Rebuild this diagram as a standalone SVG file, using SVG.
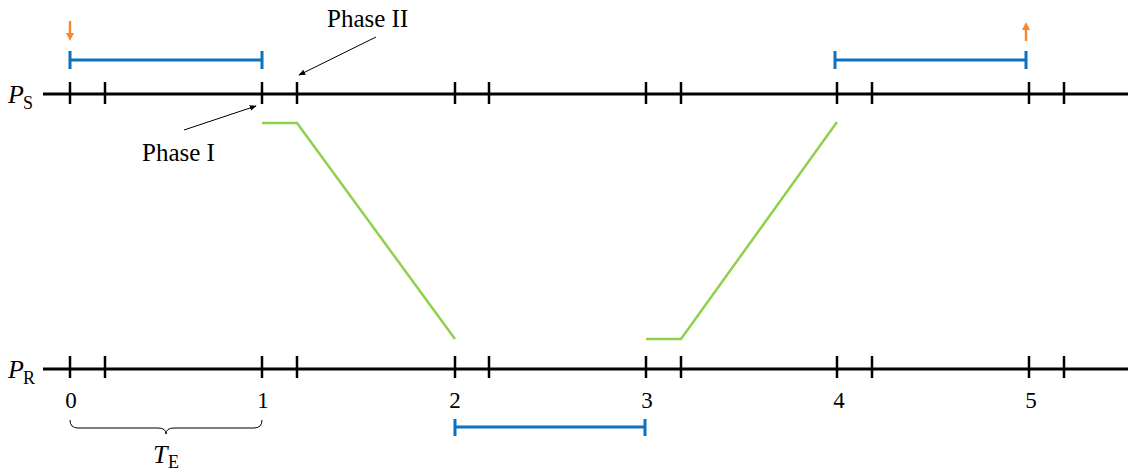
<svg xmlns="http://www.w3.org/2000/svg" width="1128" height="472" viewBox="0 0 1128 472" font-family="'Liberation Serif', 'Times New Roman', serif">
<style>
.axis{stroke:#000;stroke-width:3;fill:none}
.tick{stroke:#000;stroke-width:2.5}
.blue{stroke:#0c72c0;stroke-width:3;fill:none}
.green{stroke:#8ed24c;stroke-width:2.5;fill:none}
.orange{stroke:#f78a30;stroke-width:2.5;fill:none}
.thin{stroke:#000;stroke-width:1;fill:none}
text{font-family:'Liberation Serif','Times New Roman',serif;fill:#000}
.num{font-size:23px;text-anchor:middle}
.lbl{font-size:25px}
</style>
<defs>
<marker id="ah" viewBox="0 0 10 10" refX="9" refY="5" markerWidth="7" markerHeight="7" orient="auto" markerUnits="userSpaceOnUse"><path d="M0,1 L10,5 L0,9 z" fill="#000"/></marker>
<marker id="oh" viewBox="0 0 10 10" refX="5" refY="5" markerWidth="8" markerHeight="8" orient="auto" markerUnits="userSpaceOnUse"><path d="M0,0 L10,5 L0,10 z" fill="#f78a30"/></marker>
</defs>
<g id="axis-ps">
<line class="axis" x1="43" y1="94" x2="1128" y2="94"/>
<g class="tick">
<line x1="70" y1="82" x2="70" y2="104"/><line x1="105" y1="82" x2="105" y2="104"/>
<line x1="262" y1="82" x2="262" y2="104"/><line x1="297" y1="82" x2="297" y2="104"/>
<line x1="455" y1="82" x2="455" y2="104"/><line x1="489" y1="82" x2="489" y2="104"/>
<line x1="646" y1="82" x2="646" y2="104"/><line x1="681" y1="82" x2="681" y2="104"/>
<line x1="837" y1="82" x2="837" y2="104"/><line x1="872" y1="82" x2="872" y2="104"/>
<line x1="1029" y1="82" x2="1029" y2="104"/><line x1="1064" y1="82" x2="1064" y2="104"/>
</g>
<text x="8" y="103" font-size="26" font-style="italic">P</text><text x="23" y="109" font-size="18">S</text>
</g>
<g id="axis-pr">
<line class="axis" x1="43" y1="369" x2="1128" y2="369"/>
<g class="tick">
<line x1="70" y1="356" x2="70" y2="378"/><line x1="105" y1="356" x2="105" y2="378"/>
<line x1="262" y1="356" x2="262" y2="378"/><line x1="297" y1="356" x2="297" y2="378"/>
<line x1="455" y1="356" x2="455" y2="378"/><line x1="489" y1="356" x2="489" y2="378"/>
<line x1="646" y1="356" x2="646" y2="378"/><line x1="681" y1="356" x2="681" y2="378"/>
<line x1="837" y1="356" x2="837" y2="378"/><line x1="872" y1="356" x2="872" y2="378"/>
<line x1="1029" y1="356" x2="1029" y2="378"/><line x1="1064" y1="356" x2="1064" y2="378"/>
</g>
<text x="8" y="378" font-size="26" font-style="italic">P</text><text x="23" y="384" font-size="18">R</text>
<text class="num" x="71" y="408">0</text>
<text class="num" x="263" y="408">1</text>
<text class="num" x="455" y="408">2</text>
<text class="num" x="647" y="408">3</text>
<text class="num" x="839" y="408">4</text>
<text class="num" x="1031" y="408">5</text>
</g>
<g id="blue-intervals" class="blue">
<path d="M70,60 H262 M70,51 V69 M262,51 V69"/>
<path d="M835,60 H1026 M835,51 V69 M1026,51 V69"/>
<path d="M455,427 H645 M455,419 V436 M645,419 V436"/>
</g>
<g id="orange-arrows">
<line class="orange" x1="70" y1="21" x2="70" y2="37" marker-end="url(#oh)"/>
<line class="orange" x1="1026" y1="41" x2="1026" y2="26" marker-end="url(#oh)"/>
</g>
<g id="connectors">
<polyline class="green" points="262,123 297,123 455,339"/>
<polyline class="green" points="646,339 681,339 837,122"/>
<line class="thin" x1="376" y1="37" x2="299" y2="75" marker-end="url(#ah)"/>
<line class="thin" x1="184" y1="130" x2="256" y2="106" marker-end="url(#ah)"/>
</g>
<g id="labels">
<text class="lbl" x="327" y="27">Phase II</text>
<text class="lbl" x="142" y="161">Phase I</text>
</g>
<g id="brace">
<path class="thin" d="M70,420 Q70,428 78,428 H158 Q166,428 166,434 Q166,428 174,428 H254 Q262,428 262,420"/>
<text x="153" y="463" font-size="26" font-style="italic">T</text><text x="168" y="468" font-size="18">E</text>
</g>
</svg>
